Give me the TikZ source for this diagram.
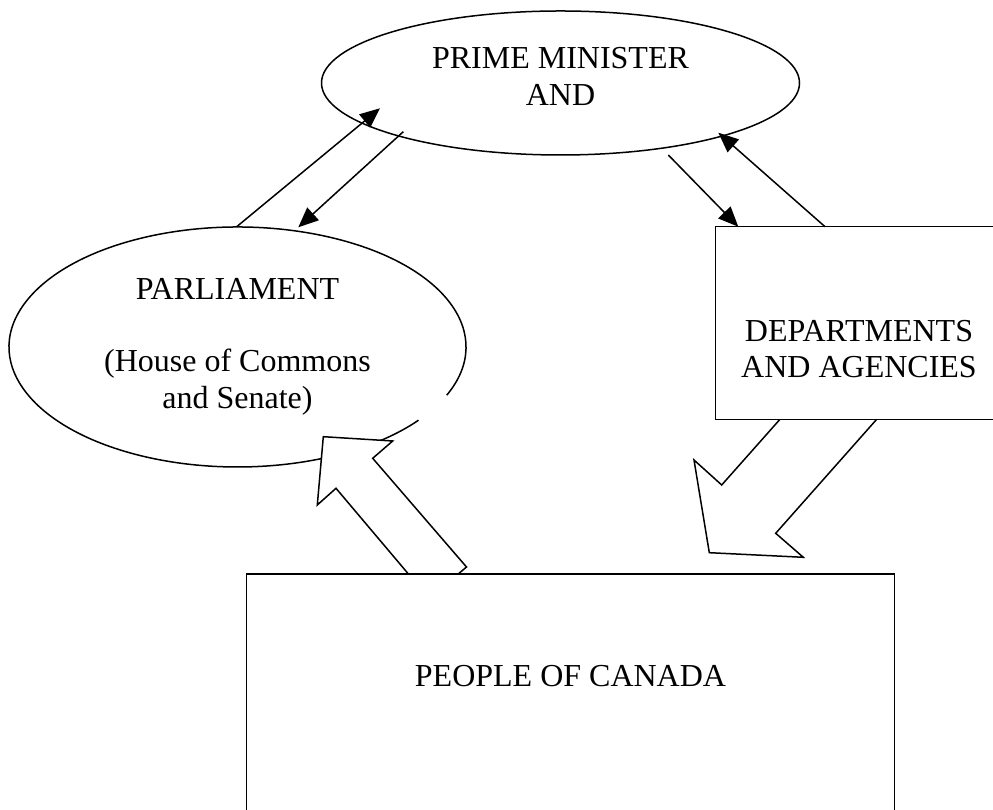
\documentclass[tikz,border=0pt]{standalone}
\usepackage{fontspec}
\setmainfont{Liberation Serif}
\usetikzlibrary{shapes.geometric,arrows.meta}
\begin{document}
\begin{tikzpicture}[x=1pt,y=1pt,
  line width=1.5pt,
  txt/.style={font=\fontsize{32}{37}\selectfont, inner sep=0pt, anchor=base},
  oval/.style={ellipse, inner sep=0pt, outer sep=0pt},
  boxshape/.style={rectangle, draw, fill=white, inner sep=0pt, outer sep=0pt},
  conn/.style={-{Triangle[length=20pt,width=17pt]}},
  blockarrow/.style={draw, fill=white, line join=miter}]
\useasboundingbox (0,0) rectangle (993,810);
\clip (0,0) rectangle (993,810);

% block arrow: departments -> people
\coordinate (da1) at (797.1,410);
\coordinate (da2) at (721.7,325);
\coordinate (da3) at (694,350);
\coordinate (da4) at (709.3,257.3);
\coordinate (da5) at (803.3,252.7);
\coordinate (da6) at (775.7,276.7);
\coordinate (da7) at (893.8,410);
\draw[blockarrow] (da1) -- (da2) -- (da3) -- (da4) -- (da5) -- (da6) -- (da7) -- cycle;

% departments box
\node[boxshape, minimum width=286.6pt, minimum height=192.6pt] (dept) at (859,487) {};
\node[txt] (dept1) at (859,468) {DEPARTMENTS};
\node[txt] (dept2) at (859,432) {AND AGENCIES};

% prime minister ellipse
\node[oval, draw, minimum width=478pt, minimum height=144pt] (pm) at (560.5,727) {};
\node[txt] (pm1) at (560.5,741) {PRIME MINISTER};
\node[txt] (pm2) at (560.5,704) {AND};

% parliament ellipse (with a small gap on its lower right)
\node[oval, minimum width=457pt, minimum height=240pt] (parl) at (237.5,463) {};
\draw (parl.center) ++(-23.7:228.5pt and 120pt)
  arc[start angle=-23.7, end angle=322.4, x radius=228.5pt, y radius=120pt];
\node[txt] (parl1) at (237.5,510) {PARLIAMENT};
\node[txt] (parl2) at (237.5,438) {(House of Commons};
\node[txt] (parl3) at (237.5,401) {and Senate)};

% block arrow: people -> parliament
\coordinate (pa1) at (323.3,373.3);
\coordinate (pa2) at (392.7,369);
\coordinate (pa3) at (372.7,351.7);
\coordinate (pa4) at (466.5,243);
\coordinate (pa5) at (429.1,211.5);
\coordinate (pa6) at (336,321.7);
\coordinate (pa7) at (317.3,305);
\draw[blockarrow] (pa1) -- (pa2) -- (pa3) -- (pa4) -- (pa5) -- (pa6) -- (pa7) -- cycle;

% people box
\node[boxshape, minimum width=647.6pt, minimum height=256pt] (people) at (570.5,108) {};
\node[txt] (people1) at (570.5,123.3) {PEOPLE OF CANADA};

% line arrows
\coordinate (a1) at (236.7,583.3);
\coordinate (a2) at (380,701.7);
\coordinate (b1) at (403.3,678.3);
\coordinate (b2) at (298.3,582.7);
\coordinate (c1) at (668.3,655);
\coordinate (c2) at (738.3,583.3);
\coordinate (d1) at (825,583.3);
\coordinate (d2) at (718.3,677.3);
\draw[conn] (a1) -- (a2);
\draw[conn] (b1) -- (b2);
\draw[conn] (c1) -- (c2);
\draw[conn] (d1) -- (d2);
\end{tikzpicture}
\end{document}
